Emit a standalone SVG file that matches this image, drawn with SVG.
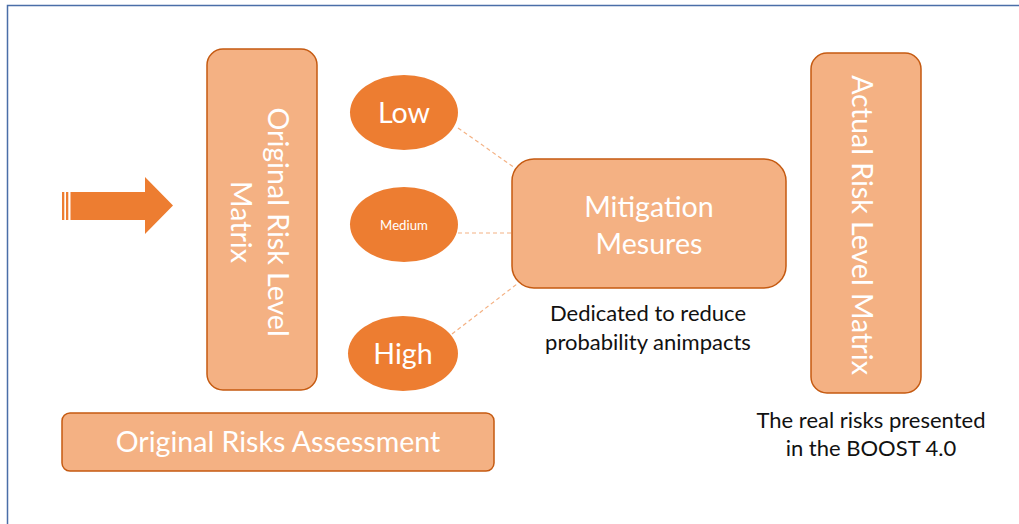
<svg xmlns="http://www.w3.org/2000/svg" width="1019" height="524" viewBox="0 0 1019 524">
  <style>
    .box { fill: #F4B183; stroke: #C55A11; stroke-width: 1.5; }
    .oval { fill: #ED7D31; }
    .wt { fill: #FFFFFF; font-family: Lato, "Liberation Sans", sans-serif; text-anchor: middle; }
    .bk { fill: #111111; font-family: Lato, "Liberation Sans", sans-serif; text-anchor: middle; font-size: 22px; }
    .link { stroke: #F4B183; stroke-width: 1.2; stroke-dasharray: 4 3; fill: none; }
  </style>

  <rect width="1019" height="524" fill="#FFFFFF"/>
  <!-- frame -->
  <path d="M7.5 524 V5.5 H1019" fill="none" stroke="#4A6EA8" stroke-width="1.5"/>

  <!-- input arrow -->
  <g id="input-arrow" fill="#ED7D31">
    <rect x="62" y="192" width="2.3" height="28"/>
    <rect x="66" y="192" width="2.3" height="28"/>
    <polygon points="70.5,192 145,192 145,177 173,205.5 145,234 145,220 70.5,220"/>
  </g>

  <!-- connectors -->
  <g id="connectors">
    <line class="link" x1="458" y1="128" x2="515" y2="168"/>
    <line class="link" x1="458" y1="233" x2="512" y2="233"/>
    <line class="link" x1="452" y1="334" x2="517" y2="284"/>
  </g>

  <g id="original-matrix">
    <rect class="box" x="207" y="49" width="110" height="341" rx="16"/>
    <g transform="translate(260,222) rotate(90)">
      <text class="wt" font-size="28.6" x="0" y="-8">Original Risk Level</text>
      <text class="wt" font-size="28.6" x="0" y="29">Matrix</text>
    </g>
  </g>

  <g id="low">
    <ellipse class="oval" cx="404" cy="112.5" rx="54" ry="37.5"/>
    <text class="wt" font-size="28.6" x="404" y="123">Low</text>
  </g>
  <g id="medium">
    <ellipse class="oval" cx="404" cy="224.5" rx="54" ry="37.5"/>
    <text class="wt" font-size="13.2" x="404" y="229.5">Medium</text>
  </g>
  <g id="high">
    <ellipse class="oval" cx="403" cy="353.5" rx="55" ry="37.5"/>
    <text class="wt" font-size="28.6" x="403" y="364">High</text>
  </g>

  <g id="mitigation">
    <rect class="box" x="512" y="159" width="274" height="129" rx="22"/>
    <text class="wt" font-size="28.6" x="649" y="217">Mitigation</text>
    <text class="wt" font-size="28.6" x="649" y="254">Mesures</text>
    <text class="bk" x="648" y="321">Dedicated to reduce</text>
    <text class="bk" x="648" y="350">probability animpacts</text>
  </g>

  <g id="actual-matrix">
    <rect class="box" x="811" y="53" width="110" height="340" rx="16"/>
    <g transform="translate(862,225) rotate(90)">
      <text class="wt" font-size="28.6" x="0" y="10">Actual Risk Level Matrix</text>
    </g>
    <text class="bk" x="871" y="428">The real risks presented</text>
    <text class="bk" x="871" y="456">in the BOOST 4.0</text>
  </g>

  <g id="original-assessment">
    <rect class="box" x="62" y="413" width="432" height="58" rx="8"/>
    <text class="wt" font-size="28.6" x="278" y="452">Original Risks Assessment</text>
  </g>
</svg>
